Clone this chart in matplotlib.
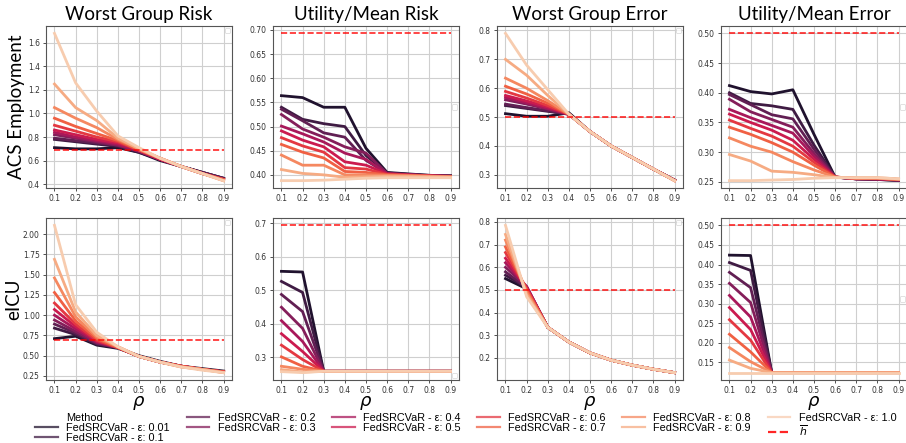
import matplotlib
matplotlib.use("Agg")
from matplotlib import pyplot as plt
from matplotlib.lines import Line2D
import seaborn as sns

rho = [0.1, 0.2, 0.3, 0.4, 0.5, 0.6, 0.7, 0.8, 0.9]
eps = ["0.01", "0.1", "0.2", "0.3", "0.4", "0.5", "0.6", "0.7", "0.8", "0.9", "1.0"]

h_bar_risk = 0.693
h_bar_error = 0.5

col_titles = ["Worst Group Risk", "Utility/Mean Risk", "Worst Group Error", "Utility/Mean Error"]
row_titles = ["ACS Employment", "eICU"]

# one row per epsilon, one value per rho
acs_worst_risk = [
    [0.71, 0.70, 0.70, 0.71, 0.67, 0.60, 0.55, 0.50, 0.45],
    [0.78, 0.76, 0.74, 0.72, 0.67, 0.61, 0.55, 0.50, 0.45],
    [0.79, 0.77, 0.75, 0.73, 0.68, 0.61, 0.55, 0.50, 0.45],
    [0.82, 0.79, 0.76, 0.73, 0.68, 0.61, 0.55, 0.49, 0.44],
    [0.84, 0.80, 0.77, 0.74, 0.68, 0.61, 0.55, 0.49, 0.44],
    [0.86, 0.82, 0.78, 0.75, 0.69, 0.61, 0.55, 0.49, 0.44],
    [0.90, 0.85, 0.80, 0.76, 0.69, 0.62, 0.55, 0.49, 0.44],
    [0.96, 0.89, 0.83, 0.77, 0.69, 0.62, 0.55, 0.49, 0.44],
    [1.05, 0.96, 0.88, 0.78, 0.70, 0.62, 0.55, 0.49, 0.43],
    [1.25, 1.05, 0.94, 0.79, 0.70, 0.62, 0.55, 0.49, 0.43],
    [1.68, 1.26, 1.02, 0.81, 0.71, 0.62, 0.55, 0.49, 0.43],
]

acs_mean_risk = [
    [0.564, 0.560, 0.540, 0.540, 0.455, 0.405, 0.402, 0.399, 0.398],
    [0.540, 0.515, 0.506, 0.500, 0.440, 0.404, 0.401, 0.399, 0.398],
    [0.536, 0.512, 0.487, 0.478, 0.430, 0.403, 0.401, 0.398, 0.397],
    [0.525, 0.495, 0.478, 0.458, 0.445, 0.403, 0.400, 0.398, 0.397],
    [0.501, 0.485, 0.468, 0.445, 0.432, 0.402, 0.400, 0.398, 0.397],
    [0.491, 0.472, 0.458, 0.427, 0.420, 0.402, 0.400, 0.398, 0.397],
    [0.477, 0.460, 0.447, 0.415, 0.412, 0.401, 0.399, 0.398, 0.396],
    [0.463, 0.447, 0.435, 0.407, 0.405, 0.400, 0.399, 0.397, 0.396],
    [0.441, 0.420, 0.420, 0.400, 0.400, 0.399, 0.398, 0.397, 0.396],
    [0.411, 0.403, 0.400, 0.395, 0.396, 0.397, 0.397, 0.396, 0.395],
    [0.388, 0.388, 0.389, 0.391, 0.393, 0.394, 0.394, 0.394, 0.394],
]

acs_worst_error = [
    [0.512, 0.503, 0.503, 0.515, 0.450, 0.400, 0.360, 0.320, 0.282],
    [0.540, 0.530, 0.520, 0.510, 0.450, 0.400, 0.360, 0.320, 0.282],
    [0.545, 0.533, 0.522, 0.510, 0.450, 0.400, 0.360, 0.320, 0.282],
    [0.560, 0.545, 0.528, 0.510, 0.450, 0.400, 0.360, 0.320, 0.281],
    [0.568, 0.550, 0.530, 0.510, 0.450, 0.400, 0.360, 0.320, 0.281],
    [0.575, 0.556, 0.535, 0.510, 0.450, 0.400, 0.360, 0.320, 0.281],
    [0.589, 0.566, 0.540, 0.510, 0.450, 0.400, 0.360, 0.320, 0.281],
    [0.607, 0.580, 0.548, 0.510, 0.450, 0.400, 0.360, 0.320, 0.280],
    [0.635, 0.600, 0.557, 0.510, 0.450, 0.400, 0.360, 0.320, 0.280],
    [0.700, 0.645, 0.575, 0.510, 0.450, 0.400, 0.360, 0.320, 0.280],
    [0.790, 0.680, 0.595, 0.510, 0.450, 0.400, 0.360, 0.320, 0.280],
]

acs_mean_error = [
    [0.412, 0.402, 0.398, 0.405, 0.330, 0.258, 0.255, 0.254, 0.252],
    [0.400, 0.382, 0.378, 0.372, 0.312, 0.258, 0.255, 0.254, 0.253],
    [0.397, 0.380, 0.363, 0.356, 0.305, 0.258, 0.255, 0.254, 0.253],
    [0.389, 0.368, 0.355, 0.342, 0.298, 0.258, 0.255, 0.255, 0.253],
    [0.372, 0.358, 0.345, 0.332, 0.293, 0.258, 0.255, 0.255, 0.253],
    [0.364, 0.350, 0.337, 0.320, 0.288, 0.258, 0.256, 0.255, 0.254],
    [0.354, 0.340, 0.327, 0.310, 0.283, 0.258, 0.256, 0.256, 0.254],
    [0.342, 0.330, 0.316, 0.300, 0.278, 0.258, 0.256, 0.256, 0.254],
    [0.324, 0.310, 0.300, 0.284, 0.270, 0.258, 0.256, 0.256, 0.254],
    [0.296, 0.285, 0.268, 0.266, 0.262, 0.257, 0.257, 0.257, 0.255],
    [0.252, 0.252, 0.253, 0.254, 0.256, 0.257, 0.257, 0.257, 0.255],
]

eicu_worst_risk = [
    [0.71, 0.74, 0.63, 0.59, 0.50, 0.43, 0.37, 0.34, 0.31],
    [0.84, 0.76, 0.64, 0.60, 0.49, 0.42, 0.37, 0.33, 0.30],
    [0.89, 0.78, 0.65, 0.60, 0.49, 0.42, 0.37, 0.33, 0.30],
    [0.94, 0.80, 0.66, 0.60, 0.49, 0.42, 0.37, 0.33, 0.30],
    [1.00, 0.83, 0.67, 0.60, 0.49, 0.42, 0.37, 0.33, 0.30],
    [1.07, 0.86, 0.68, 0.60, 0.49, 0.42, 0.37, 0.33, 0.30],
    [1.15, 0.89, 0.69, 0.60, 0.49, 0.42, 0.37, 0.33, 0.30],
    [1.28, 0.93, 0.71, 0.60, 0.49, 0.42, 0.37, 0.33, 0.30],
    [1.46, 0.98, 0.73, 0.61, 0.49, 0.42, 0.36, 0.33, 0.29],
    [1.69, 1.04, 0.75, 0.61, 0.49, 0.42, 0.36, 0.33, 0.29],
    [2.11, 1.13, 0.79, 0.61, 0.49, 0.42, 0.36, 0.32, 0.29],
]

eicu_mean_risk = [
    [0.556, 0.554, 0.258, 0.258, 0.258, 0.258, 0.258, 0.258, 0.258],
    [0.526, 0.493, 0.258, 0.258, 0.258, 0.258, 0.258, 0.258, 0.258],
    [0.487, 0.436, 0.258, 0.258, 0.258, 0.258, 0.258, 0.258, 0.258],
    [0.449, 0.386, 0.258, 0.258, 0.258, 0.258, 0.258, 0.258, 0.258],
    [0.409, 0.347, 0.258, 0.258, 0.258, 0.258, 0.258, 0.258, 0.258],
    [0.370, 0.317, 0.258, 0.258, 0.258, 0.258, 0.258, 0.258, 0.258],
    [0.336, 0.293, 0.258, 0.258, 0.258, 0.258, 0.258, 0.258, 0.258],
    [0.301, 0.273, 0.258, 0.258, 0.258, 0.258, 0.258, 0.258, 0.258],
    [0.273, 0.264, 0.258, 0.258, 0.258, 0.258, 0.258, 0.258, 0.258],
    [0.263, 0.256, 0.258, 0.258, 0.258, 0.258, 0.258, 0.258, 0.258],
    [0.257, 0.254, 0.258, 0.258, 0.258, 0.258, 0.258, 0.258, 0.258],
]

eicu_worst_error = [
    [0.550, 0.505, 0.335, 0.270, 0.222, 0.190, 0.168, 0.150, 0.135],
    [0.565, 0.510, 0.335, 0.270, 0.222, 0.190, 0.168, 0.150, 0.135],
    [0.580, 0.510, 0.335, 0.270, 0.222, 0.190, 0.168, 0.150, 0.135],
    [0.600, 0.515, 0.335, 0.270, 0.222, 0.190, 0.168, 0.150, 0.135],
    [0.620, 0.515, 0.335, 0.270, 0.222, 0.190, 0.168, 0.150, 0.135],
    [0.640, 0.510, 0.335, 0.270, 0.222, 0.190, 0.168, 0.150, 0.135],
    [0.665, 0.505, 0.335, 0.270, 0.222, 0.190, 0.168, 0.150, 0.135],
    [0.690, 0.500, 0.335, 0.270, 0.222, 0.190, 0.168, 0.150, 0.135],
    [0.720, 0.490, 0.335, 0.270, 0.222, 0.190, 0.168, 0.150, 0.135],
    [0.745, 0.480, 0.335, 0.270, 0.222, 0.190, 0.168, 0.150, 0.135],
    [0.785, 0.470, 0.335, 0.270, 0.222, 0.190, 0.168, 0.150, 0.135],
]

eicu_mean_error = [
    [0.424, 0.423, 0.124, 0.124, 0.124, 0.124, 0.124, 0.124, 0.124],
    [0.405, 0.385, 0.124, 0.124, 0.124, 0.124, 0.124, 0.124, 0.124],
    [0.380, 0.341, 0.124, 0.124, 0.124, 0.124, 0.124, 0.124, 0.124],
    [0.352, 0.303, 0.124, 0.124, 0.124, 0.124, 0.124, 0.124, 0.124],
    [0.321, 0.266, 0.124, 0.124, 0.124, 0.124, 0.124, 0.124, 0.124],
    [0.290, 0.234, 0.124, 0.124, 0.124, 0.124, 0.124, 0.124, 0.124],
    [0.259, 0.207, 0.124, 0.124, 0.124, 0.124, 0.124, 0.124, 0.124],
    [0.222, 0.177, 0.124, 0.124, 0.124, 0.124, 0.124, 0.124, 0.124],
    [0.188, 0.152, 0.124, 0.124, 0.124, 0.124, 0.124, 0.124, 0.124],
    [0.156, 0.135, 0.124, 0.124, 0.124, 0.124, 0.124, 0.124, 0.124],
    [0.124, 0.124, 0.124, 0.124, 0.124, 0.124, 0.124, 0.124, 0.124],
]

panels = [
    [acs_worst_risk, acs_mean_risk, acs_worst_error, acs_mean_error],
    [eicu_worst_risk, eicu_mean_risk, eicu_worst_error, eicu_mean_error],
]
h_bars = [h_bar_risk, h_bar_risk, h_bar_error, h_bar_error]

# where the stray empty legend boxes sit
empty_legend_loc = [
    ["upper right", "center right", "upper right", "center right"],
    ["upper right", "lower right", "upper right", "center right"],
]

colors = sns.color_palette("rocket", len(eps))
title_font = "Lato"


def draw_panel(ax, data, h_bar):
    for i, series in enumerate(data):
        ax.plot(rho, series, color=colors[i], lw=2.0)
    ax.plot(rho, [h_bar] * len(rho), color="red", ls="--", lw=1.2, alpha=0.85)
    ax.set_xticks(rho)
    ax.grid(True, color="#cfcfcf", lw=0.8)
    ax.set_axisbelow(True)
    ax.tick_params(labelsize=5.5, length=2.5, width=0.6, colors="#333333", pad=2)
    for s in ax.spines.values():
        s.set_color("#555555")
        s.set_linewidth(0.8)


def main():
    fig = plt.figure(figsize=(9.06, 4.43), dpi=100)

    lefts = [0.0508, 0.3013, 0.5486, 0.7958]
    bottoms = [0.5756, 0.1422]
    w, h = 0.2053, 0.3657
    label_x = [-0.115, -0.13]

    for r in range(2):
        for c in range(4):
            ax = fig.add_axes([lefts[c], bottoms[r], w, h])
            draw_panel(ax, panels[r][c], h_bars[c])
            leg = ax.legend([], [], loc=empty_legend_loc[r][c], fontsize=4,
                            borderpad=0.5, borderaxespad=0.3)
            leg.get_frame().set_linewidth(0.5)
            if r == 0:
                ax.set_title(col_titles[c], fontsize=13.5, family=title_font, pad=4)
            else:
                ax.set_xlabel(r"$\rho$", fontsize=13, labelpad=-1)
            if c == 0:
                ax.set_ylabel(row_titles[r], fontsize=13.5, family=title_font)
                ax.yaxis.set_label_coords(label_x[r], 0.5)

    # figure legend along the bottom
    handles = [Line2D([], [], visible=False)]
    labels = ["Method"]
    for i, e in enumerate(eps):
        handles.append(Line2D([], [], color=colors[i], lw=1.6, alpha=0.75))
        labels.append("FedSRCVaR - ε: " + e)
    handles.append(Line2D([], [], color="red", ls="--", lw=1.6, alpha=0.85))
    labels.append(r"$\overline{h}$")

    fig.legend(handles, labels, ncol=6, loc="upper left",
               bbox_to_anchor=(0.039, 0.068), frameon=False,
               prop={"family": "Liberation Sans", "size": 7.8},
               handlelength=2.1, handletextpad=0.75, columnspacing=1.55,
               labelspacing=0.0, borderpad=0.0, borderaxespad=0.0)

    fig.savefig("out.png", dpi=100)


if __name__ == "__main__":
    main()
